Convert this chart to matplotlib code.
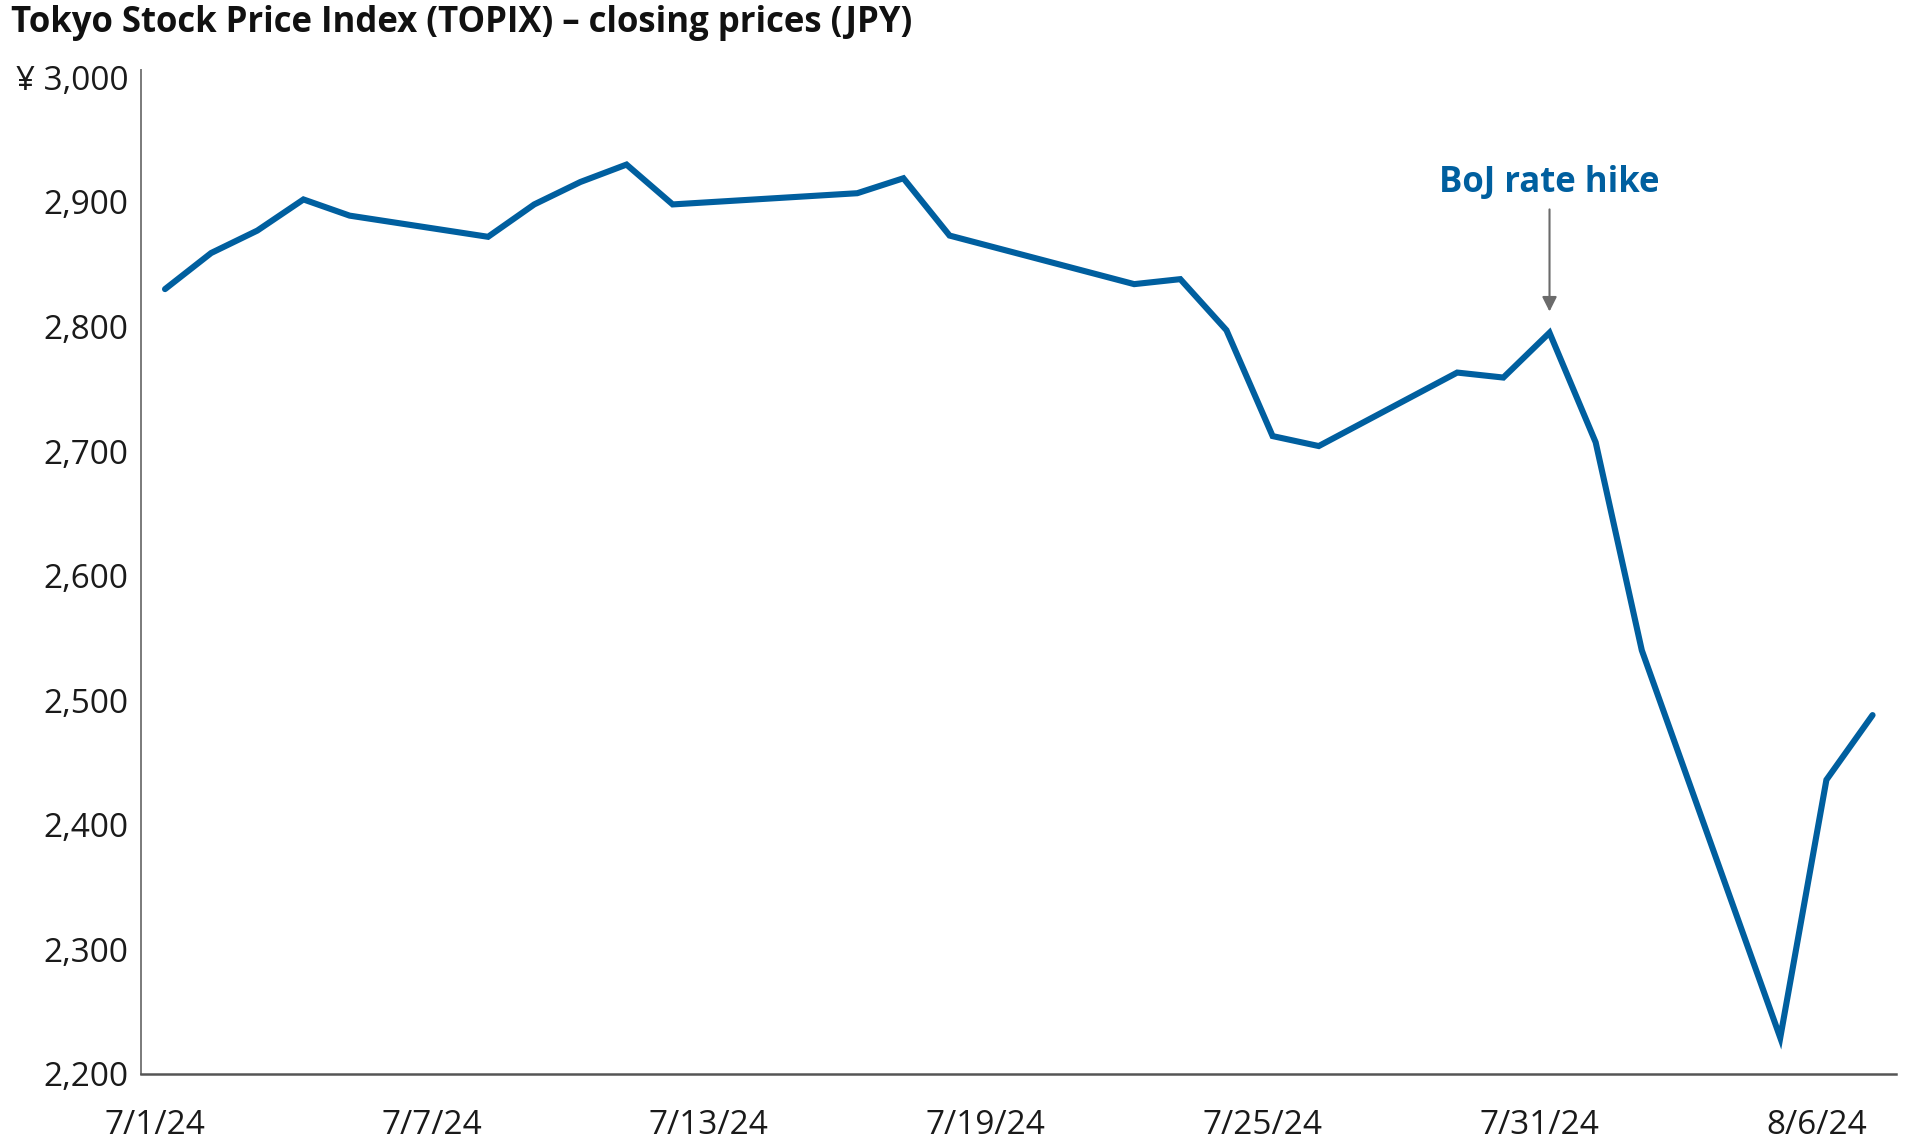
import datetime as dt
import matplotlib
matplotlib.use("Agg")
import matplotlib.pyplot as plt
import matplotlib.dates as mdates
import matplotlib.transforms as mtrans
from matplotlib.ticker import FuncFormatter

plt.rcParams["font.family"] = ["Open Sans", "DejaVu Sans"]

# TOPIX closes (trading days only)
dates = ["2024-07-01", "2024-07-02", "2024-07-03", "2024-07-04", "2024-07-05",
         "2024-07-08", "2024-07-09", "2024-07-10", "2024-07-11", "2024-07-12",
         "2024-07-16", "2024-07-17", "2024-07-18", "2024-07-22", "2024-07-23",
         "2024-07-24", "2024-07-25", "2024-07-26", "2024-07-29", "2024-07-30",
         "2024-07-31", "2024-08-01", "2024-08-02", "2024-08-05", "2024-08-06",
         "2024-08-07"]
closes = [2830, 2859, 2877, 2902, 2889,
          2872, 2898, 2916, 2930, 2898,
          2907, 2919, 2873, 2834, 2838,
          2797, 2712, 2704, 2763, 2759,
          2795, 2707, 2540, 2229, 2436,
          2488]
tick_dates = ["2024-07-01", "2024-07-07", "2024-07-13", "2024-07-19",
              "2024-07-25", "2024-07-31", "2024-08-06"]
yticks = [2200, 2300, 2400, 2500, 2600, 2700, 2800, 2900, 3000]
event_date = "2024-07-31"
event_label = "BoJ rate hike"

BLUE = "#005f9f"
x = [dt.datetime.fromisoformat(d) for d in dates]
xt = [dt.datetime.fromisoformat(d) for d in tick_dates]
xe = dt.datetime.fromisoformat(event_date)

fig = plt.figure(figsize=(19.09, 11.46), dpi=100)
ax = fig.add_axes([0.0737, 0.063, 0.9193, 0.876])
ax.plot(x, closes, color=BLUE, lw=4.4, solid_joinstyle="miter", solid_capstyle="round")

ax.set_xlim(x[0] - dt.timedelta(days=0.527), x[0] + dt.timedelta(days=37.5))
ax.set_ylim(2200, 3006)
ax.set_yticks(yticks)
ax.yaxis.set_major_formatter(FuncFormatter(
    lambda v, p: f"¥ {v:,.0f}" if v == 3000 else f"{v:,.0f}"))
ax.set_xticks(xt)
ax.xaxis.set_major_formatter(mdates.DateFormatter("%-m/%-d/%y"))
ax.tick_params(axis="both", length=0, labelsize=24, colors="#1a1a1a")
ax.tick_params(axis="y", pad=9)
ax.tick_params(axis="x", pad=25)
off = mtrans.ScaledTranslation(-10 / 100, 0, fig.dpi_scale_trans)
for lab in ax.get_xticklabels():
    lab.set_transform(lab.get_transform() + off)

for s in ["top", "right"]:
    ax.spines[s].set_visible(False)
ax.spines["left"].set_color("#7a7a7a")
ax.spines["left"].set_linewidth(1.4)
ax.spines["bottom"].set_color("#555555")
ax.spines["bottom"].set_linewidth(1.8)

ax.annotate("", xy=(xe, 2812), xytext=(xe, 2894),
            arrowprops=dict(arrowstyle="-|>", color="#6b6b6b", lw=1.5,
                            mutation_scale=22, shrinkA=0, shrinkB=0))
ax.text(xe, 2915, event_label, color=BLUE, fontsize=25, fontweight="bold",
        ha="center", va="center")

fig.text(0.0058, 0.972, "Tokyo Stock Price Index (TOPIX) \u2013 closing prices (JPY)",
         fontsize=25, fontweight="bold", color="#111111", ha="left", va="baseline")

fig.savefig("out.png", dpi=100)
